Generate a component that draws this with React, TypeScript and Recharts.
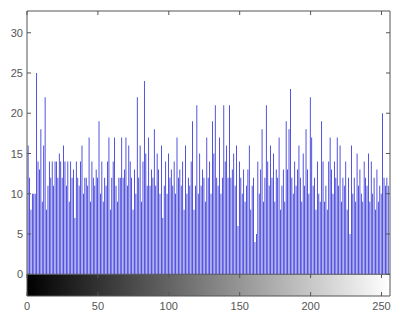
import { BarChart, Bar, XAxis, YAxis, ReferenceArea, ReferenceLine } from 'recharts';

// pixel counts per gray level (0..255)
const counts = [
  8, 16, 12, 8, 10, 10, 10, 25, 14, 13, 18, 9, 16, 22, 8, 11,
  14, 12, 14, 11, 14, 14, 12, 15, 14, 12, 16, 14, 11, 14, 9, 14,
  12, 13, 7, 14, 12, 11, 14, 16, 10, 12, 12, 11, 17, 9, 14, 12,
  11, 13, 12, 19, 10, 14, 9, 12, 11, 14, 17, 8, 12, 14, 17, 11,
  9, 12, 12, 17, 12, 13, 17, 11, 16, 14, 12, 8, 13, 10, 22, 12,
  16, 9, 14, 24, 15, 11, 17, 11, 13, 12, 18, 11, 15, 13, 10, 16,
  7, 11, 14, 10, 15, 12, 13, 11, 14, 10, 17, 12, 13, 11, 14, 8,
  16, 10, 12, 11, 14, 19, 8, 11, 21, 10, 15, 11, 13, 12, 9, 17,
  12, 14, 10, 19, 15, 21, 12, 11, 17, 10, 12, 21, 14, 16, 12, 21,
  12, 13, 15, 11, 16, 6, 14, 12, 10, 13, 9, 11, 13, 16, 8, 11,
  12, 4, 5, 14, 10, 13, 18, 9, 12, 21, 14, 11, 16, 12, 15, 9,
  13, 12, 17, 8, 11, 13, 9, 19, 13, 18, 23, 12, 10, 14, 11, 13,
  16, 12, 9, 15, 11, 18, 13, 10, 22, 17, 11, 12, 8, 14, 10, 9,
  19, 14, 9, 11, 8, 14, 17, 13, 10, 14, 12, 17, 11, 16, 9, 12,
  11, 14, 8, 12, 5, 16, 10, 12, 9, 15, 11, 13, 10, 9, 14, 12,
  11, 15, 9, 14, 10, 12, 8, 13, 9, 11, 10, 20, 12, 11, 12, 11,
];

const xTicks = [0, 50, 100, 150, 200, 250];
const yTicks = [0, 5, 10, 15, 20, 25, 30];

const data = counts.map((count, bin) => ({ bin, count }));

const AXIS = '#555555';
const LABEL = '#555555';
const FONT = '"Liberation Sans", Arial, sans-serif';

const BottomTick = ({ x, y, payload }: any) => (
  <g>
    <line x1={x} y1={y} x2={x} y2={y - 4} stroke={AXIS} />
    <line x1={x} y1={y - 22} x2={x} y2={y - 18} stroke={AXIS} />
    <text x={x} y={y + 14} textAnchor="middle" fontSize={11} fill={LABEL} fontFamily={FONT}>
      {payload.value}
    </text>
  </g>
);

const TopTick = ({ x, y }: any) => (
  <line x1={x} y1={y} x2={x} y2={y + 4} stroke={AXIS} />
);

const LeftTick = ({ x, y, payload }: any) => (
  <g>
    <line x1={x} y1={y} x2={x + 4} y2={y} stroke={AXIS} />
    <text x={x - 4} y={y + 4} textAnchor="end" fontSize={11} fill={LABEL} fontFamily={FONT}>
      {payload.value}
    </text>
  </g>
);

const RightTick = ({ x, y }: any) => (
  <line x1={x} y1={y} x2={x - 4} y2={y} stroke={AXIS} />
);

export default function App() {
  return (
    <div style={{ position: 'absolute', left: 0, top: 0, background: '#fff' }}>
      <BarChart
        width={405}
        height={322}
        data={data}
        margin={{ top: 0, right: 0, bottom: 0, left: 0 }}
        barCategoryGap={0}
      >
        <defs>
          <linearGradient id="grayBar" x1="0" y1="0" x2="1" y2="0">
            <stop offset="0%" stopColor="#000000" />
            <stop offset="100%" stopColor="#ffffff" />
          </linearGradient>
        </defs>
        <XAxis
          xAxisId="b"
          dataKey="bin"
          type="number"
          domain={[0, 256]}
          ticks={xTicks}
          height={26}
          tickSize={0}
          tickMargin={0}
          tickLine={false}
          axisLine={{ stroke: AXIS }}
          tick={<BottomTick />}
          allowDataOverflow
        />
        <XAxis
          xAxisId="t"
          dataKey="bin"
          type="number"
          orientation="top"
          domain={[0, 256]}
          ticks={xTicks}
          height={11}
          tickSize={0}
          tickMargin={0}
          tickLine={false}
          axisLine={{ stroke: AXIS }}
          tick={<TopTick />}
          allowDataOverflow
        />
        <YAxis
          yAxisId="l"
          type="number"
          domain={[-2.7, 32.7]}
          ticks={yTicks}
          width={27}
          tickSize={0}
          tickMargin={0}
          tickLine={false}
          axisLine={{ stroke: AXIS }}
          tick={<LeftTick />}
          allowDataOverflow
        />
        <YAxis
          yAxisId="r"
          orientation="right"
          type="number"
          domain={[-2.7, 32.7]}
          ticks={yTicks}
          width={15}
          tickSize={0}
          tickMargin={0}
          tickLine={false}
          axisLine={{ stroke: AXIS }}
          tick={<RightTick />}
          allowDataOverflow
        />
        <ReferenceArea
          xAxisId="b"
          yAxisId="l"
          x1={0}
          x2={256}
          y1={-2.7}
          y2={0}
          fill="url(#grayBar)"
          fillOpacity={1}
          stroke="none"
        />
        <ReferenceLine xAxisId="b" yAxisId="l" y={0} stroke={AXIS} />
        <Bar
          xAxisId="b"
          yAxisId="l"
          dataKey="count"
          fill="#2a2ad6"
          barSize={0.8}
          isAnimationActive={false}
        />
      </BarChart>
    </div>
  );
}
